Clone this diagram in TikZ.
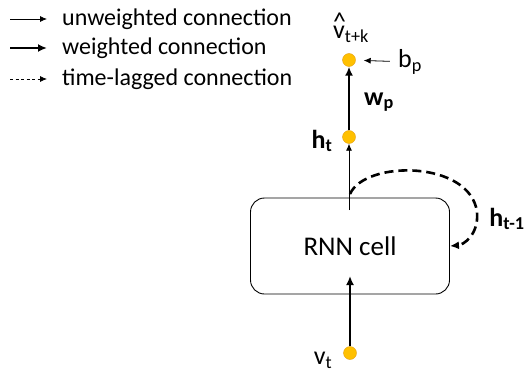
\documentclass[tikz,border=0pt]{standalone}
\usepackage{fontspec}
\setmainfont{Carlito}
\usetikzlibrary{arrows.meta}
\definecolor{Gold}{RGB}{255, 192, 0}
\definecolor{DarkGold}{RGB}{226, 158, 20}

\begin{document}
\begin{tikzpicture}[
    x=1pt, y=-1pt,
    unit/.style={circle, fill=Gold, draw=DarkGold, inner sep=0pt, minimum size=13pt},
    cell/.style={draw=black, line width=0.9pt, rounded corners=14pt, minimum width=199pt, minimum height=96pt, font=\fontsize{27}{31}\selectfont},
    unweighted/.style={-{Latex[length=7pt, width=6pt]}, line width=0.8pt},
    weighted/.style={-{Latex[length=9pt, width=8pt]}, line width=2.8pt},
    lagged/.style={-{Latex[length=7pt, width=6pt]}, line width=0.8pt, dash pattern=on 3pt off 2.5pt},
    lagged loop/.style={-{Latex[length=9pt, width=8pt]}, line width=2.6pt, dash pattern=on 9pt off 5pt},
    lbl/.style={font=\fontsize{26}{30}\selectfont, inner sep=0pt},
    legend/.style={anchor=west, font=\fontsize{24}{28}\selectfont, inner sep=0pt}
    ]
    \useasboundingbox (0,0) rectangle (529,377);

    % legend
    \foreach \y/\s/\t in {19/unweighted/unweighted connection, 48/weighted/weighted connection, 79/lagged/time-lagged connection} {
        \coordinate (key\y) at (10,\y);
        \coordinate (keyend\y) at (47,\y);
        \draw[\s] (key\y) -- (keyend\y);
        \node[legend] (txt\y) at (62,\y) {\t};
    }

    % cell and units
    \node[cell] (rnn) at (350,246) {RNN cell};
    \node[unit] (vt) at (350,353) {};
    \node[unit] (ht) at (349,137) {};
    \node[unit] (vhat) at (349,60) {};

    % labels
    \node[lbl] (vtlbl) at (323,360) {v\textsubscript{t}};
    \node[lbl] (htlbl) at (322,141) {\textbf{h\textsubscript{t}}};
    \node[lbl] (wplbl) at (379,102) {\textbf{w\textsubscript{p}}};
    \node[lbl] (bp) at (410,62) {b\textsubscript{p}};
    \node[lbl] (vhatlbl) at (351,28) {\rlap{\raisebox{0.32em}{\textasciicircum}}v\textsubscript{t+k}};
    \node[lbl] (htmlbl) at (507,219) {\textbf{h\textsubscript{t-1}}};

    % connections
    \coordinate (rnnin) at (350,276);
    \coordinate (rnnout) at (349,210);
    \coordinate (loopstart) at (350,194);
    \draw[weighted] (vt) -- (rnnin);
    \draw[unweighted] (rnnout) -- (ht);
    \draw[weighted] (ht) -- (vhat);
    \draw[unweighted, shorten <=8pt, shorten >=8pt] (bp) -- (vhat);
    \draw[lagged loop] (loopstart) .. controls (365,160) and (470,160) .. (477,212)
        .. controls (479,235) and (463,245) .. (rnn.east);
\end{tikzpicture}
\end{document}
